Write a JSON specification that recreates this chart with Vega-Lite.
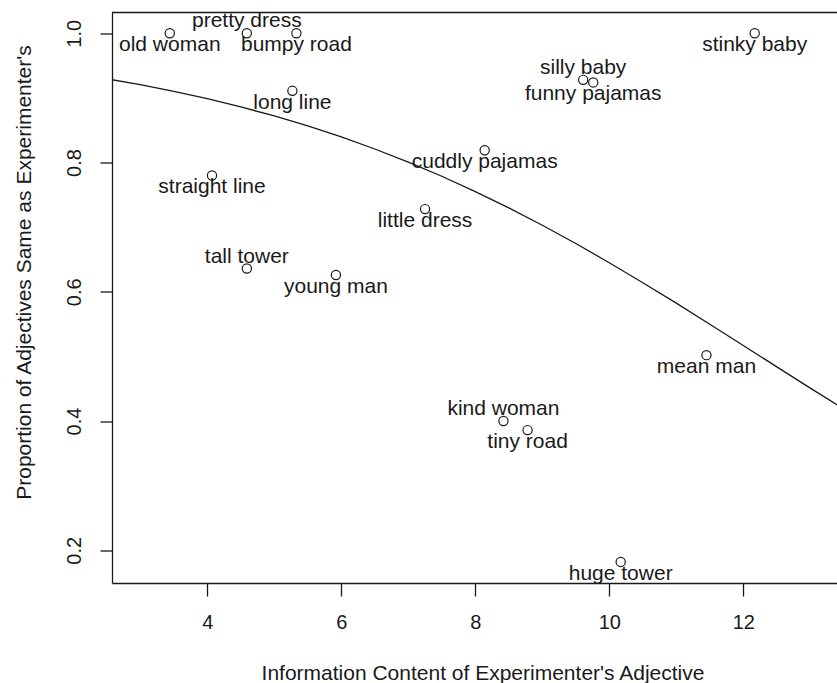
{
  "$schema": "https://vega.github.io/schema/vega-lite/v6.json",
  "width": 725,
  "height": 570.5,
  "autosize": "none",
  "padding": {"left": 112, "top": 12.5, "right": 0, "bottom": 100},
  "background": "white",
  "config": {"view": {"stroke": null}, "font": "Liberation Sans"},
  "datasets": {
    "pts": [
      {"label": "old woman", "info": 3.44, "prop": 1.0},
      {"label": "pretty dress", "info": 4.59, "prop": 1.0},
      {"label": "bumpy road", "info": 5.33, "prop": 1.0},
      {"label": "long line", "info": 5.27, "prop": 0.911},
      {"label": "silly baby", "info": 9.61, "prop": 0.928},
      {"label": "funny pajamas", "info": 9.76, "prop": 0.924},
      {"label": "cuddly pajamas", "info": 8.14, "prop": 0.819},
      {"label": "little dress", "info": 7.25, "prop": 0.728},
      {"label": "straight line", "info": 4.07, "prop": 0.78},
      {"label": "tall tower", "info": 4.59, "prop": 0.636},
      {"label": "young man", "info": 5.92, "prop": 0.626},
      {"label": "kind woman", "info": 8.42, "prop": 0.4},
      {"label": "tiny road", "info": 8.78, "prop": 0.386},
      {"label": "mean man", "info": 11.45, "prop": 0.502},
      {"label": "stinky baby", "info": 12.17, "prop": 1.0},
      {"label": "huge tower", "info": 10.17, "prop": 0.182}
    ],
    "fit": [
      {"info": 2.5, "prop": 0.9296},
      {"info": 3.0, "prop": 0.9205},
      {"info": 3.5, "prop": 0.9102},
      {"info": 4.0, "prop": 0.8988},
      {"info": 4.5, "prop": 0.8861},
      {"info": 5.0, "prop": 0.8721},
      {"info": 5.5, "prop": 0.8566},
      {"info": 6.0, "prop": 0.8396},
      {"info": 6.5, "prop": 0.821},
      {"info": 7.0, "prop": 0.8007},
      {"info": 7.5, "prop": 0.7788},
      {"info": 8.0, "prop": 0.7551},
      {"info": 8.5, "prop": 0.7298},
      {"info": 9.0, "prop": 0.703},
      {"info": 9.5, "prop": 0.6747},
      {"info": 10.0, "prop": 0.645},
      {"info": 10.5, "prop": 0.6141},
      {"info": 11.0, "prop": 0.5824},
      {"info": 11.5, "prop": 0.5499},
      {"info": 12.0, "prop": 0.517},
      {"info": 12.5, "prop": 0.4839},
      {"info": 13.0, "prop": 0.451},
      {"info": 13.5, "prop": 0.4186}
    ]
  },
  "layer": [
    {
      "data": {"name": "fit"},
      "mark": {"type": "line", "color": "#1a1a1a", "strokeWidth": 1.3, "clip": true},
      "encoding": {
        "x": {
          "field": "info", "type": "quantitative",
          "scale": {"domain": [2.5776, 13.3985], "nice": false, "zero": false},
          "axis": {
            "title": "Information Content of Experimenter's Adjective",
            "values": [4, 6, 8, 10, 12], "format": "d", "grid": false,
            "domainColor": "#1a1a1a", "domainWidth": 1.3,
            "tickColor": "#1a1a1a", "tickSize": 13, "tickWidth": 1.3,
            "labelFontSize": 20, "labelColor": "#1a1a1a", "labelBaseline": "middle", "labelPadding": 26,
            "titleFontSize": 21, "titleFontWeight": "normal", "titleColor": "#1a1a1a",
            "titleX": 370.5, "titleY": 90, "titleBaseline": "middle", "titleAlign": "center"
          }
        },
        "y": {
          "field": "prop", "type": "quantitative",
          "scale": {"domain": [0.1494, 1.0322], "nice": false, "zero": false},
          "axis": {
            "title": "Proportion of Adjectives Same as Experimenter's",
            "values": [0.2, 0.4, 0.6, 0.8, 1.0], "format": ".1f", "grid": false,
            "domainColor": "#1a1a1a", "domainWidth": 1.3,
            "tickColor": "#1a1a1a", "tickSize": 12, "tickWidth": 1.3,
            "labelFontSize": 20, "labelColor": "#1a1a1a", "labelAngle": -90,
            "labelAlign": "center", "labelBaseline": "middle", "labelPadding": 26,
            "titleFontSize": 21, "titleFontWeight": "normal", "titleColor": "#1a1a1a",
            "titleX": -88, "titleY": 259.5, "titleBaseline": "middle", "titleAlign": "center", "titleAngle": -90
          }
        }
      }
    },
    {
      "data": {"values": [{}]},
      "mark": {"type": "rule", "color": "#1a1a1a", "strokeWidth": 1.3},
      "encoding": {"y": {"datum": 1.0322, "type": "quantitative", "scale": {"domain": [0.1494, 1.0322], "nice": false, "zero": false}}}
    },
    {
      "data": {"name": "pts"},
      "mark": {"type": "point", "shape": "circle", "filled": false, "size": 85, "stroke": "#1a1a1a", "strokeWidth": 1.2, "opacity": 1},
      "encoding": {
        "x": {"field": "info", "type": "quantitative", "scale": {"domain": [2.5776, 13.3985], "nice": false, "zero": false}},
        "y": {"field": "prop", "type": "quantitative", "scale": {"domain": [0.1494, 1.0322], "nice": false, "zero": false}}
      }
    },
    {
      "data": {"name": "pts"},
      "transform": [{"filter": {"field": "label", "oneOf": ["pretty dress", "silly baby", "tall tower", "kind woman"]}}],
      "mark": {"type": "text", "fontSize": 21, "color": "#1a1a1a", "align": "center", "baseline": "middle", "dy": -12},
      "encoding": {
        "x": {"field": "info", "type": "quantitative", "scale": {"domain": [2.5776, 13.3985], "nice": false, "zero": false}},
        "y": {"field": "prop", "type": "quantitative", "scale": {"domain": [0.1494, 1.0322], "nice": false, "zero": false}},
        "text": {"field": "label"}
      }
    },
    {
      "data": {"name": "pts"},
      "transform": [{"filter": {"not": {"field": "label", "oneOf": ["pretty dress", "silly baby", "tall tower", "kind woman"]}}}],
      "mark": {"type": "text", "fontSize": 21, "color": "#1a1a1a", "align": "center", "baseline": "middle", "dy": 12},
      "encoding": {
        "x": {"field": "info", "type": "quantitative", "scale": {"domain": [2.5776, 13.3985], "nice": false, "zero": false}},
        "y": {"field": "prop", "type": "quantitative", "scale": {"domain": [0.1494, 1.0322], "nice": false, "zero": false}},
        "text": {"field": "label"}
      }
    }
  ]
}
